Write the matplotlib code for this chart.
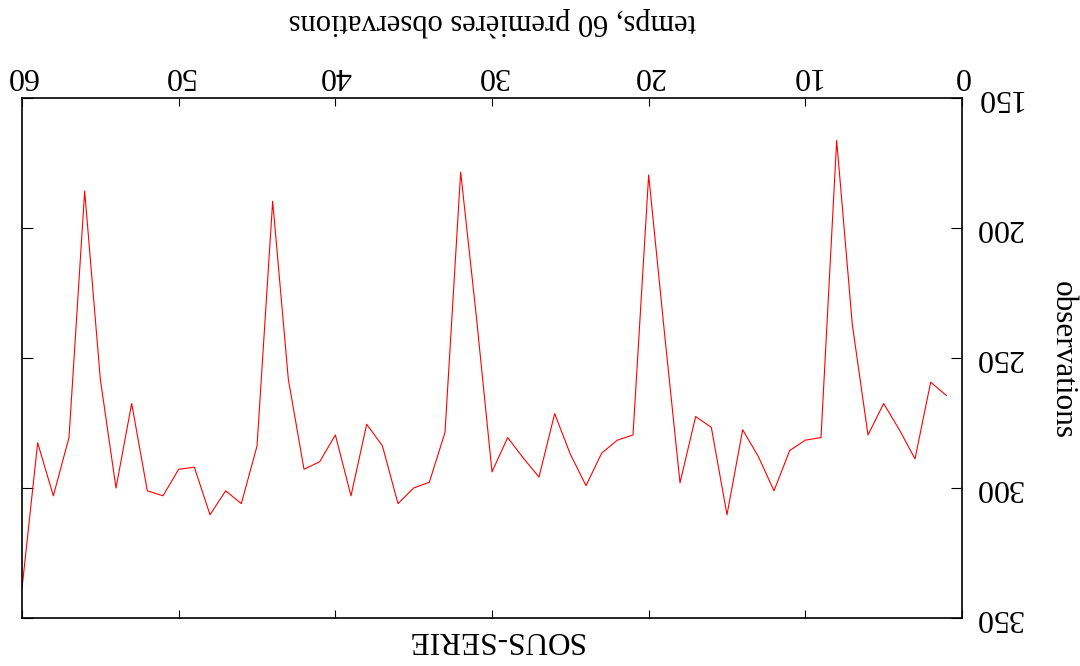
import matplotlib
matplotlib.use("Agg")
import matplotlib.pyplot as plt

# time index (first 60 observations)
t = list(range(1, 61))
observations = [
    264.4, 259.3, 288.8, 277.6, 267.5, 279.6, 237.2, 166.3, 280.6, 281.6,
    285.6, 301.1, 287.9, 277.6, 310.3, 276.7, 272.5, 298.0, 239.8, 179.6,
    279.6, 281.6, 286.6, 299.1, 287.0, 271.4, 295.8, 288.5, 280.6, 293.8,
    234.0, 178.5, 278.6, 297.8, 300.0, 306.0, 283.7, 275.5, 303.0, 279.6,
    289.9, 292.8, 258.2, 189.7, 283.9, 306.0, 301.1, 310.3, 292.0, 292.8,
    303.0, 301.1, 267.5, 300.0, 258.2, 185.8, 280.6, 303.0, 282.6, 338.6,
]
x_ticks = [0, 10, 20, 30, 40, 50, 60]
y_ticks = [150, 200, 250, 300, 350]
title = "SOUS-SERIE"
xlabel = "temps, 60 premières observations"
ylabel = "observations"

plt.rcParams['font.family'] = ['Liberation Serif', 'DejaVu Serif']

fig = plt.figure(figsize=(10.8, 6.66), dpi=100)
ax = fig.add_axes([22/1080, 1-618/666, (962-22)/1080, (618-98)/666])

ax.plot(t, observations, color='#ff0000', lw=0.8)

ax.set_xlim(0, 60)
ax.set_ylim(150, 350)
ax.invert_xaxis()
ax.invert_yaxis()
ax.set_xticks(x_ticks)
ax.set_yticks(y_ticks)
ax.set_xticklabels([str(v) for v in x_ticks], rotation=180, fontsize=23)
ax.set_yticklabels([str(v) for v in y_ticks], rotation=180, fontsize=23)

ax.tick_params(axis='x', direction='in', length=5.5, width=0.8,
               top=True, bottom=True, labeltop=True, labelbottom=False, pad=6)
ax.tick_params(axis='y', direction='in', length=8, width=0.8,
               left=True, right=True, labelright=True, labelleft=False, pad=9)
for lab in ax.get_xticklabels():
    lab.set_va('bottom')
for lab in ax.get_yticklabels():
    lab.set_ha('left')
    lab.set_va('center')

for s in ax.spines.values():
    s.set_linewidth(1.2)
    s.set_color('black')

fig.text(494/1080, 1-640/666, title, rotation=180, ha='center', va='center', fontsize=22.5)
fig.text(492/1080, 1-22/666, xlabel, rotation=180, ha='center', va='center', fontsize=22)
fig.text(1062/1080, 1-360/666, ylabel, rotation=270, ha='center', va='center', fontsize=22.5)

fig.savefig("out.png", dpi=100)
